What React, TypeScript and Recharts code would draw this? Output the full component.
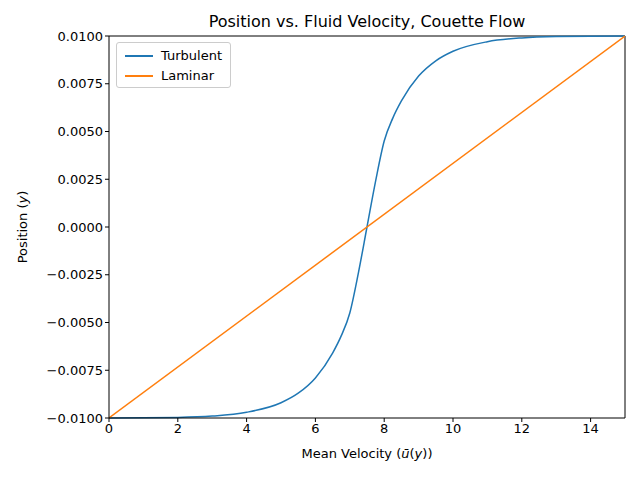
import React from "react";
import { LineChart, Line, XAxis, YAxis } from "recharts";

const turbU = [0, 2, 3, 4, 5, 5.5, 6, 6.5, 6.75, 7, 7.25, 7.5, 7.75, 8, 8.25, 8.5, 9, 9.5, 10, 11, 12, 13, 15];
const turbY = [-0.01, -0.00997, -0.0099, -0.0097, -0.0092, -0.0087, -0.0079, -0.0066, -0.0057, -0.0045, -0.0024, 0, 0.0024, 0.0045, 0.0057, 0.0066, 0.0079, 0.0087, 0.0092, 0.0097, 0.0099, 0.00997, 0.01];
const lamU = [0, 15];
const lamY = [-0.01, 0.01];
const xTicks = [0, 2, 4, 6, 8, 10, 12, 14];
const yTicks = [-0.01, -0.0075, -0.005, -0.0025, 0, 0.0025, 0.005, 0.0075, 0.01];

const turb = turbU.map((u, i) => ({ u, y: turbY[i] }));
const lam = lamU.map((u, i) => ({ u, y: lamY[i] }));

const font = "DejaVu Sans";
const tick = { fontSize: 13, fill: "#000", fontFamily: font };

export default function App() {
  return (
    <div style={{ position: "absolute", left: 0, top: 0, width: 640, height: 480, background: "#fff", fontFamily: font }}>
      <LineChart width={640} height={480} margin={{ top: 36, right: 15, bottom: 32, left: 39 }}>
        <XAxis dataKey="u" type="number" domain={[0, 15]} ticks={xTicks} allowDataOverflow tick={tick} stroke="#000" tickSize={4} height={30} />
        <YAxis dataKey="y" type="number" domain={[-0.01, 0.01]} ticks={yTicks} tick={tick} stroke="#000" tickSize={4} width={70} tickFormatter={(v: number) => (v < 0 ? "\u2212" : "") + Math.abs(v).toFixed(4)} />
        <Line data={turb} dataKey="y" type="monotone" stroke="#1f77b4" strokeWidth={1.5} dot={false} isAnimationActive={false} />
        <Line data={lam} dataKey="y" type="linear" stroke="#ff7f0e" strokeWidth={1.5} dot={false} isAnimationActive={false} />
        <line x1={109} y1={36} x2={625} y2={36} stroke="#000" />
        <line x1={625} y1={36} x2={625} y2={418} stroke="#000" />
      </LineChart>
      <div style={{ position: "absolute", left: 0, width: 734, top: 12, textAlign: "center", fontSize: 16 }}>Position vs. Fluid Velocity, Couette Flow</div>
      <div style={{ position: "absolute", left: 0, width: 734, top: 446, textAlign: "center", fontSize: 13 }}>Mean Velocity (<i>ū</i>(<i>y</i>))</div>
      <div style={{ position: "absolute", left: 22, top: 227, fontSize: 13, transform: "translate(-50%,-50%) rotate(-90deg)", whiteSpace: "nowrap" }}>Position (<i>y</i>)</div>
      <div style={{ position: "absolute", left: 116, top: 42, width: 113, height: 44, border: "1px solid #ccc", borderRadius: 3, background: "#fff", fontSize: 13 }}>
        <div style={{ position: "absolute", left: 8, top: 5, display: "flex", alignItems: "center" }}>
          <span style={{ display: "inline-block", width: 28, height: 2, background: "#1f77b4", marginRight: 8 }} />Turbulent
        </div>
        <div style={{ position: "absolute", left: 8, top: 25, display: "flex", alignItems: "center" }}>
          <span style={{ display: "inline-block", width: 28, height: 2, background: "#ff7f0e", marginRight: 8 }} />Laminar
        </div>
      </div>
    </div>
  );
}
